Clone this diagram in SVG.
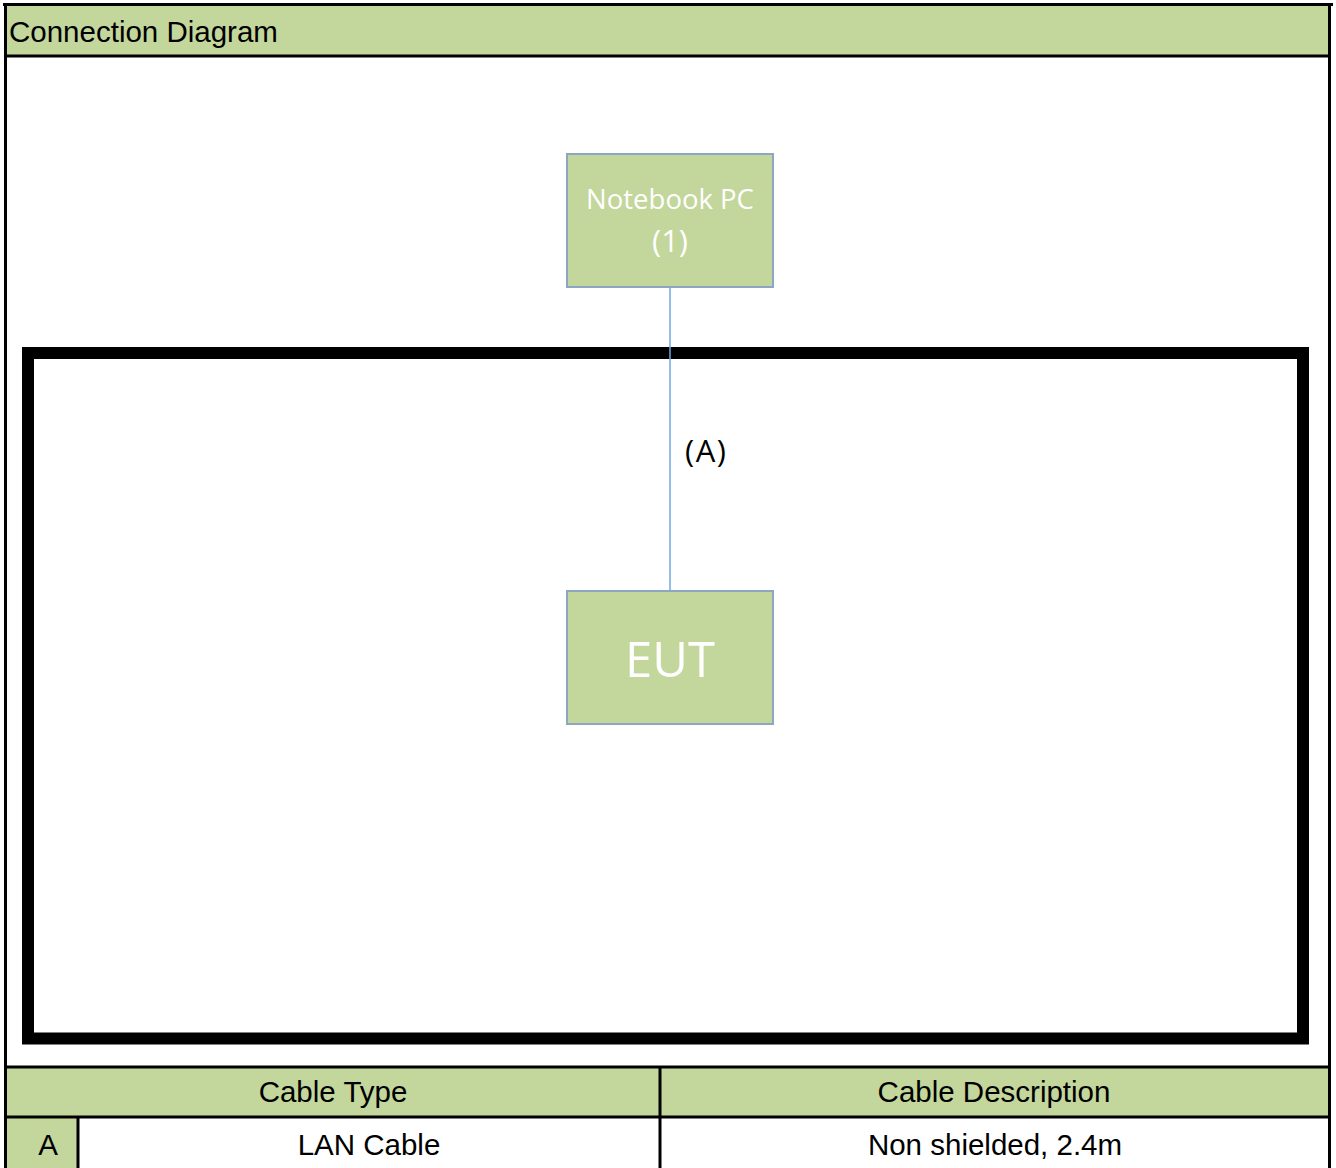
<svg xmlns="http://www.w3.org/2000/svg" width="1336" height="1168" viewBox="0 0 1336 1168">
<style>
.hdr{fill:#C3D69B}
.grid{stroke:#000;stroke-width:3;fill:none}
.t{font-family:"Liberation Sans",Arial,sans-serif;font-size:29.5px;fill:#000}
.nodebox{fill:#C3D69B;stroke:#8DA6C4;stroke-width:2}
.nt{font-family:"Open Sans","Noto Sans",sans-serif;fill:#fff;text-anchor:middle}
.lbl{font-family:"Open Sans","Noto Sans",sans-serif;font-size:31px;fill:#000}
</style>
<rect width="1336" height="1168" fill="#fff"/>
<g id="header">
<rect class="hdr" x="5" y="5" width="1325" height="51"/>
<text class="t" x="9" y="42">Connection Diagram</text>
</g>
<g id="table">
<rect class="hdr" x="5" y="1067" width="1325" height="50"/>
<rect class="hdr" x="5" y="1117" width="73" height="51"/>
<line class="grid" x1="5" y1="1067" x2="1330" y2="1067"/>
<line class="grid" x1="5" y1="1117" x2="1330" y2="1117"/>
<line class="grid" x1="660" y1="1067" x2="660" y2="1168"/>
<line class="grid" x1="78" y1="1117" x2="78" y2="1168"/>
<text class="t" x="333" y="1102" text-anchor="middle">Cable Type</text>
<text class="t" x="994" y="1102" text-anchor="middle">Cable Description</text>
<text class="t" x="48" y="1155" text-anchor="middle">A</text>
<text class="t" x="369" y="1155" text-anchor="middle">LAN Cable</text>
<text class="t" x="995" y="1155" text-anchor="middle">Non shielded, 2.4m</text>
</g>
<g id="frame">
<line class="grid" x1="3" y1="4.5" x2="1333" y2="4.5"/>
<line class="grid" x1="5.5" y1="3" x2="5.5" y2="1168"/>
<line class="grid" x1="1329.5" y1="3" x2="1329.5" y2="1168"/>
<line class="grid" x1="5" y1="56" x2="1330" y2="56"/>
</g>
<g id="test-area">
<rect x="28" y="353" width="1275" height="685.5" fill="none" stroke="#000" stroke-width="12"/>
</g>
<g id="connectors">
<line x1="670" y1="287" x2="670" y2="591" stroke="#6FA8DC" stroke-width="1.5"/>
<text class="lbl" x="685" y="462" letter-spacing="1.5">(A)</text>
</g>
<g id="notebook-pc">
<rect class="nodebox" x="567" y="154" width="206" height="133"/>
<text class="nt" x="670" y="209" font-size="27.5">Notebook PC</text>
<text class="nt" x="670" y="252" font-size="31">(1)</text>
</g>
<g id="eut">
<rect class="nodebox" x="567" y="591" width="206" height="133"/>
<text class="nt" x="670" y="677" font-size="49">EUT</text>
</g>
</svg>
